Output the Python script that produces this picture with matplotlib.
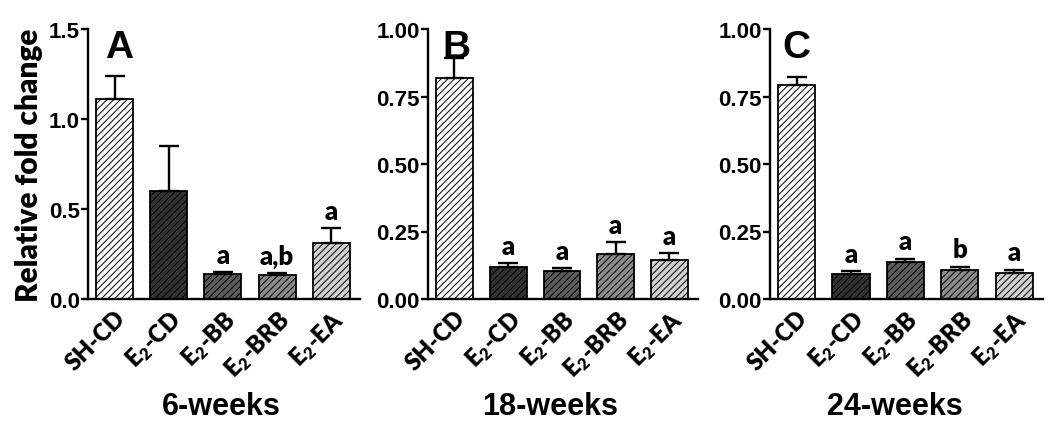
import numpy as np
import matplotlib
matplotlib.use("Agg")
import matplotlib.pyplot as plt

plt.rcParams["font.family"] = "Liberation Sans"
plt.rcParams["font.weight"] = "bold"
plt.rcParams["mathtext.default"] = "regular"
plt.rcParams["hatch.linewidth"] = 0.7

groups = ["SH-CD", "E$_2$-CD", "E$_2$-BB", "E$_2$-BRB", "E$_2$-EA"]
fills = ["#ffffff", "#333333", "#5c5c5c", "#8c8c8c", "#d2d2d2"]

# mean and upper SEM for each time point
wk6_mean = [1.11, 0.60, 0.137, 0.133, 0.309]
wk6_err = [0.127, 0.252, 0.011, 0.010, 0.084]
wk6_marks = ["", "", "a", "a,b", "a"]

wk18_mean = [0.817, 0.120, 0.105, 0.167, 0.146]
wk18_err = [0.076, 0.013, 0.009, 0.043, 0.023]
wk18_marks = ["", "a", "a", "a", "a"]

wk24_mean = [0.793, 0.094, 0.136, 0.109, 0.095]
wk24_err = [0.030, 0.009, 0.013, 0.010, 0.014]
wk24_marks = ["", "a", "a", "b", "a"]

panels = [
    ("A", "6-weeks", wk6_mean, wk6_err, wk6_marks, 1.5, [0, 0.5, 1.0, 1.5], "%.1f"),
    ("B", "18-weeks", wk18_mean, wk18_err, wk18_marks, 1.0, [0, 0.25, 0.5, 0.75, 1.0], "%.2f"),
    ("C", "24-weeks", wk24_mean, wk24_err, wk24_marks, 1.0, [0, 0.25, 0.5, 0.75, 1.0], "%.2f"),
]

W, H = 1050, 427
fig = plt.figure(figsize=(W / 100, H / 100), dpi=100)

# axes rectangles in pixels (left, right)
rects = [(88, 360), (428, 698), (770, 1043)]
letter_x = [0.116, 0.107, 0.095]
title_x = [221, 550, 895]
label_font = "Lato"

x = np.arange(len(groups))
for (left, right), (letter, title, mean, err, marks, ymax, yticks, fmt), lx, tx in zip(
        rects, panels, letter_x, title_x):
    ax = fig.add_axes([left / W, 1 - 300 / H, (right - left) / W, 270 / H])
    ax.bar(x, mean, width=0.685, color=fills, edgecolor="black",
           linewidth=1.3, hatch="/////", zorder=2)
    ax.errorbar(x, mean, yerr=[np.zeros(len(mean)), err], fmt="none",
                ecolor="black", elinewidth=1.7, capsize=7, capthick=1.7, zorder=3)
    for xi, m, e, s in zip(x, mean, err, marks):
        if s:
            ax.annotate(s, (xi, m + e), xytext=(0, 4), textcoords="offset points",
                        ha="center", va="bottom", fontsize=18.5,
                        family=label_font, fontweight="heavy")
    ax.set_xlim(-0.49, 4.53)
    ax.set_ylim(0, ymax)
    ax.set_yticks(yticks)
    ax.set_yticklabels([fmt % t for t in yticks], fontsize=16, fontweight="bold")
    ax.set_xticks(x)
    ax.set_xticklabels(groups, rotation=45, ha="right", va="top",
                       rotation_mode="anchor", fontsize=17,
                       family=label_font, fontweight="heavy")
    ax.tick_params(axis="x", length=0, pad=5)
    ax.tick_params(axis="y", length=5, width=1.7, pad=1)
    for side in ["top", "right"]:
        ax.spines[side].set_visible(False)
    for side in ["left", "bottom"]:
        ax.spines[side].set_linewidth(1.7)
    ax.text(lx, 0.896, letter, transform=ax.transAxes, ha="center",
            va="baseline", fontsize=28, fontweight="bold")
    fig.text(tx / W, 1 - 415 / H, title, ha="center", va="baseline",
             fontsize=22, fontweight="bold")
    if letter == "A":
        ax.set_ylabel("Relative fold change", fontsize=21.5, family=label_font,
                      fontweight="heavy", labelpad=4)

fig.savefig("out.png", dpi=100)
